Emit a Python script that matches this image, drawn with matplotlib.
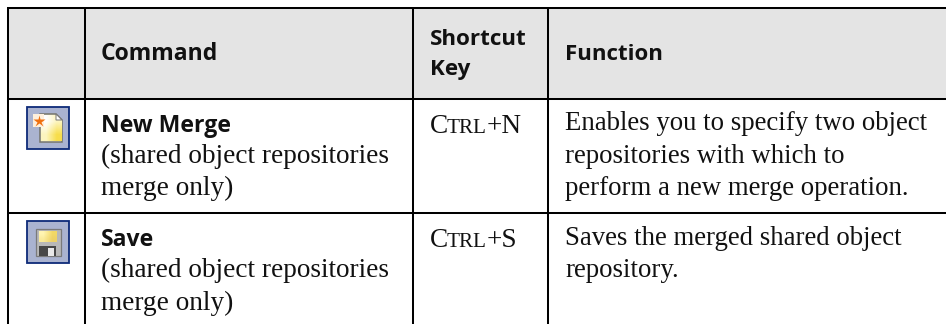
import matplotlib
matplotlib.use('Agg')
import matplotlib.pyplot as plt
from matplotlib.patches import Rectangle, Polygon

# table content
commands = ['New Merge', 'Save']
notes = ['(shared object repositories', 'merge only)']
shortcut_head = ['Shortcut', 'Key']
shortcuts = [('C', 'TRL', '+N'), ('C', 'TRL', '+S')]
functions = [['Enables you to specify two object', 'repositories with which to', 'perform a new merge operation.'],
             ['Saves the merged shared object', 'repository.']]

# layout in pixels
col_x = [7.5, 84.5, 413, 547.5, 946]
row_y = [7.5, 98.5, 212.5, 324]
first_base = [130.5, 245]
text_x = [101, 430, 565]
LINE = 32.4
INK = '#111111'
SERIF = 'Liberation Serif'
SANS = 'Open Sans'
BODY = 19.6
HEAD = 16.6

fig = plt.figure(figsize=(9.46, 3.24), dpi=100)
ax = fig.add_axes([0, 0, 1, 1])


def body(x, y, s, size=BODY):
    ax.text(x, y, s, family=SERIF, fontsize=size, color=INK, va='baseline')


def head(x, y, s, size=HEAD):
    ax.text(x, y, s, family=SANS, weight='bold', fontsize=size, color=INK, va='baseline')


ax.add_patch(Rectangle((col_x[0], row_y[0]), col_x[-1] - col_x[0], row_y[1] - row_y[0], fc='#e4e4e4', ec='none'))
for y in row_y[:3]:
    ax.plot([col_x[0] - 1, 946], [y, y], color='black', lw=1.45, solid_capstyle='butt')
for x in col_x[:4]:
    ax.plot([x, x], [row_y[0], 324], color='black', lw=1.45, solid_capstyle='butt')

head(text_x[0], 59.5, 'Command')
head(text_x[1], 45, shortcut_head[0], 16.1)
head(text_x[1], 75, shortcut_head[1], 16.1)
head(text_x[2], 60, 'Function', 16)

for i, base in enumerate(first_base):
    head(text_x[0], base + 1, commands[i])
    body(text_x[0], base + LINE, notes[0])
    body(text_x[0], base + 2 * LINE, notes[1])
    # small caps shortcut
    body(text_x[1], base + 2.3, shortcuts[i][0])
    body(text_x[1] + 17, base + 2.3, shortcuts[i][1], 15.2)
    body(text_x[1] + 57, base + 2.3, shortcuts[i][2])
    for j, line in enumerate(functions[i]):
        body(text_x[2], base + j * LINE, line, 19.3)


def icon_frame(y):
    ax.add_patch(Rectangle((26.5, y + .5), 42, 42, fc='#aab3d0', ec='#0d2a78', lw=1.3))


# new merge icon
y0 = 106
icon_frame(y0)
page = Polygon([(40, y0 + 8), (56, y0 + 8), (62, y0 + 14), (62, y0 + 36), (40, y0 + 36)],
               fc='#fdf8d8', ec='#75756c', lw=1.1)
ax.add_patch(page)
shade = ax.imshow([[[1, 1, 1], [.99, .96, .75]], [[.99, .96, .75], [.97, .87, .3]]], extent=(41, 61, y0 + 35, y0 + 9),
                  interpolation='bilinear', aspect='auto', zorder=2.5)
shade.set_clip_path(page)
ax.add_patch(Polygon([(56, y0 + 8), (62, y0 + 14), (56, y0 + 14)], fc='#ffffff', ec='#777777', lw=0.7, zorder=3))
ax.add_patch(Rectangle((33, y0 + 8), 11, 13, fc='#fff0dc', ec='none', zorder=3))
ax.plot([38.5], [y0 + 14.5], marker='*', ms=9, color='#f07010', mec='none', zorder=4)

# save icon
y0 = 220
icon_frame(y0)
ax.add_patch(Rectangle((35.5, y0 + 9), 25, 26.5, fc='#b8b8b8', ec='#7a7a7a', lw=0.9))
label = ax.imshow([[[1, .96, .7], [.95, .85, .4]], [[.98, .92, .6], [.93, .82, .4]]], extent=(39, 56, y0 + 22, y0 + 11),
                  interpolation='bilinear', aspect='auto', zorder=2.5)
ax.add_patch(Rectangle((39, y0 + 26), 17, 10, fc='#474747', ec='none'))
ax.add_patch(Rectangle((48, y0 + 28), 6, 8, fc='#e8e8e8', ec='none'))

ax.set_xlim(0, 946)
ax.set_ylim(324, 0)
ax.axis('off')

fig.savefig('out.png', dpi=100)
